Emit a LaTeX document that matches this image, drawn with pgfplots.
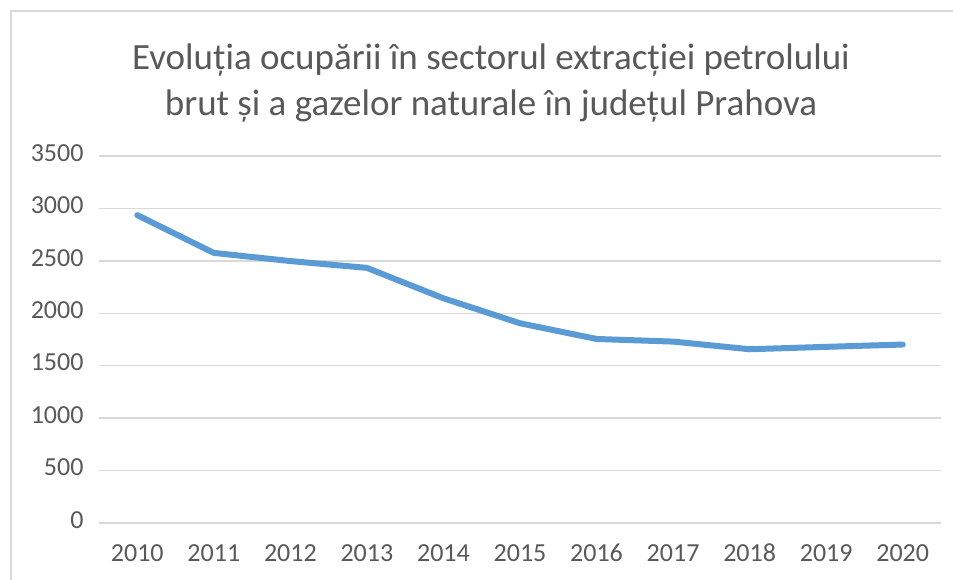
\documentclass[border=0pt]{standalone}
\usepackage{pgfplots}
\pgfplotsset{compat=1.18}
\usepackage{fontspec}
\setmainfont{Carlito}
\definecolor{linecol}{HTML}{5B9BD5}
\definecolor{gridcol}{HTML}{D9D9D9}
\definecolor{txtcol}{HTML}{595959}
\begin{document}
\begin{tikzpicture}[x=1pt,y=1pt]
\useasboundingbox (0,0) rectangle (953,579);
\fill[white] (0,0) rectangle (953,579);
\draw[gridcol, line width=1.5pt] (11,-20) -- (11,568) -- (980,568);
\begin{axis}[
  at={(99pt,56pt)}, anchor=south west,
  scale only axis, width=842pt, height=367pt,
  xmin=-0.5, xmax=10.5, ymin=0, ymax=3500,
  xtick={0,...,10},
  xticklabels={2010,2011,2012,2013,2014,2015,2016,2017,2018,2019,2020},
  ytick={0,500,...,3500},
  ymajorgrids, major grid style={gridcol, line width=1.5pt},
  axis line style={draw=none},
  tick style={draw=none},
  /pgf/number format/assume math mode=true,
  /pgf/number format/1000 sep={},
  ticklabel style={font=\fontsize{26}{32}\selectfont, text=txtcol},
  yticklabel style={xshift=-12pt, yshift=-2pt, text height=0.65em, text depth=0pt},
  xticklabel style={text height=0.65em, text depth=0pt, yshift=-28pt},
  title={Evoluția ocupării în sectorul extracției petrolului\\brut și a gazelor naturale în județul Prahova},
  title style={font=\fontsize{37}{46}\selectfont, text=txtcol, align=center, at={(0.4656,1)}, anchor=south, yshift=24pt},
]
\addplot[linecol, line width=6pt, line join=round, line cap=round] coordinates {
(0,2936) (1,2576) (2,2498) (3,2433) (4,2143) (5,1905) (6,1755) (7,1730) (8,1657) (9,1680) (10,1702)
};
\end{axis}
\end{tikzpicture}
\end{document}
